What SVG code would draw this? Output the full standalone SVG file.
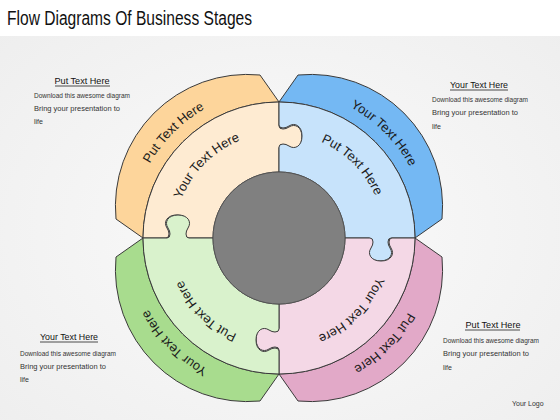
<svg xmlns="http://www.w3.org/2000/svg" xmlns:xlink="http://www.w3.org/1999/xlink" width="560" height="420" viewBox="0 0 560 420">
<style>
.ln{stroke:#3a3a3a;stroke-width:1;stroke-linejoin:round}
.arc{font-family:"Liberation Sans",Arial,sans-serif;font-size:13px;fill:#1a1a1a}
.hd{font-family:"Liberation Sans",Arial,sans-serif;font-size:9px;fill:#111;text-anchor:middle}
.bd{font-family:"Liberation Sans",Arial,sans-serif;font-size:7px;fill:#333}
.ul{stroke:#222;stroke-width:0.8}
.ob{fill:#FDD59B}.oi{fill:#FEEBD2}
.bb{fill:#74B8F3}.bi{fill:#C7E3FB}
.pb{fill:#E2A9C8}.pi{fill:#F4D8E6}
.gb{fill:#A8DC8E}.gi{fill:#D9F2CC}
</style>
<defs>
<radialGradient id="bg" cx="0.5" cy="0.55" r="0.7">
<stop offset="0" stop-color="#FBFBFB"/>
<stop offset="1" stop-color="#EEEEEE"/>
</radialGradient>
<path id="band" d="M 143,238 L 116,219 A 132 132 0 0 1 260,75 L 279,102 A 136 136 0 0 0 143,238 Z"/>
<path id="piece" d="M 143,238 A 136 136 0 0 1 279,102 L 279,126 Q 279,129 283,129 Q 286,129 289,127 C 295,123 302,127 302,137 C 302,147 295,151 289,147 Q 286,145 283,145 Q 279,145 279,148 L 279,172 A 66 66 0 0 0 213,238 L 188,238 Q 185,238 185,234 Q 185,231 187,228 C 191,222 187,215 177,215 C 167,215 163,222 167,228 Q 169,231 169,234 Q 169,238 166,238 Z"/>
<path id="oO" d="M 130,238 A 149 149 0 0 1 279,89"/>
<path id="oB" d="M 279,89 A 149 149 0 0 1 428,238"/>
<path id="oP" d="M 428,238 A 149 149 0 0 1 279,387"/>
<path id="oG" d="M 279,387 A 149 149 0 0 1 130,238"/>
<path id="iO" d="M 174,238 A 105 105 0 0 1 279,133"/>
<path id="iB" d="M 279,133 A 105 105 0 0 1 384,238"/>
<path id="iP" d="M 384,238 A 105 105 0 0 1 279,343"/>
<path id="iG" d="M 279,343 A 105 105 0 0 1 174,238"/>
</defs>
<rect x="0" y="0" width="560" height="420" fill="url(#bg)"/>
<rect x="0" y="0" width="560" height="36" fill="#FFFFFF"/>
<text x="7" y="25" font-family="'Liberation Sans',Arial,sans-serif" font-size="20" fill="#111" textLength="245" lengthAdjust="spacingAndGlyphs">Flow Diagrams Of Business Stages</text>

<g id="connectors"></g>

<g id="stage-orange">
<use href="#band" class="ob ln"/>
<use href="#piece" class="oi ln"/>
<text class="arc"><textPath href="#oO" startOffset="50%" text-anchor="middle">Put Text Here</textPath></text>
<text class="arc"><textPath href="#iO" startOffset="50%" text-anchor="middle">Your Text Here</textPath></text>
</g>
<g id="stage-blue">
<use href="#band" class="bb ln" transform="rotate(90 279 238)"/>
<use href="#piece" class="bi ln" transform="rotate(90 279 238)"/>
<text class="arc"><textPath href="#oB" startOffset="50%" text-anchor="middle">Your Text Here</textPath></text>
<text class="arc"><textPath href="#iB" startOffset="50%" text-anchor="middle">Put Text Here</textPath></text>
</g>
<g id="stage-pink">
<use href="#band" class="pb ln" transform="rotate(180 279 238)"/>
<use href="#piece" class="pi ln" transform="rotate(180 279 238)"/>
<text class="arc"><textPath href="#oP" startOffset="50%" text-anchor="middle">Put Text Here</textPath></text>
<text class="arc"><textPath href="#iP" startOffset="50%" text-anchor="middle">Your Text Here</textPath></text>
</g>
<g id="stage-green">
<use href="#band" class="gb ln" transform="rotate(270 279 238)"/>
<use href="#piece" class="gi ln" transform="rotate(270 279 238)"/>
<text class="arc"><textPath href="#oG" startOffset="50%" text-anchor="middle">Your Text Here</textPath></text>
<text class="arc"><textPath href="#iG" startOffset="50%" text-anchor="middle">Put Text Here</textPath></text>
</g>
<g id="hub">
<circle cx="279" cy="238" r="66" fill="#808080" stroke="#555" stroke-width="1"/>
</g>

<g id="note-top-left">
<text class="hd" x="82" y="84" textLength="55" lengthAdjust="spacingAndGlyphs">Put Text Here</text>
<line class="ul" x1="55" y1="86" x2="110" y2="86"/>
<text class="bd" x="34" y="97.5" textLength="96" lengthAdjust="spacingAndGlyphs">Download this awesome diagram</text>
<text class="bd" x="34" y="110.5" textLength="86" lengthAdjust="spacingAndGlyphs">Bring your presentation to</text>
<text class="bd" x="34" y="123.5">life</text>
</g>
<g id="note-top-right">
<text class="hd" x="479" y="88" textLength="58" lengthAdjust="spacingAndGlyphs">Your Text Here</text>
<line class="ul" x1="450" y1="90" x2="508" y2="90"/>
<text class="bd" x="432" y="101.5" textLength="96" lengthAdjust="spacingAndGlyphs">Download this awesome diagram</text>
<text class="bd" x="432" y="115" textLength="86" lengthAdjust="spacingAndGlyphs">Bring your presentation to</text>
<text class="bd" x="432" y="128.5">life</text>
</g>
<g id="note-bottom-left">
<text class="hd" x="69" y="340" textLength="58" lengthAdjust="spacingAndGlyphs">Your Text Here</text>
<line class="ul" x1="40" y1="342" x2="98" y2="342"/>
<text class="bd" x="20" y="355.5" textLength="96" lengthAdjust="spacingAndGlyphs">Download this awesome diagram</text>
<text class="bd" x="20" y="368.5" textLength="86" lengthAdjust="spacingAndGlyphs">Bring your presentation to</text>
<text class="bd" x="20" y="381.5">life</text>
</g>
<g id="note-bottom-right">
<text class="hd" x="493" y="328" textLength="55" lengthAdjust="spacingAndGlyphs">Put Text Here</text>
<line class="ul" x1="465" y1="330" x2="520" y2="330"/>
<text class="bd" x="443" y="342.5" textLength="96" lengthAdjust="spacingAndGlyphs">Download this awesome diagram</text>
<text class="bd" x="443" y="355.5" textLength="86" lengthAdjust="spacingAndGlyphs">Bring your presentation to</text>
<text class="bd" x="443" y="369.5">life</text>
</g>
<text class="bd" x="512" y="405.5">Your Logo</text>
</svg>
